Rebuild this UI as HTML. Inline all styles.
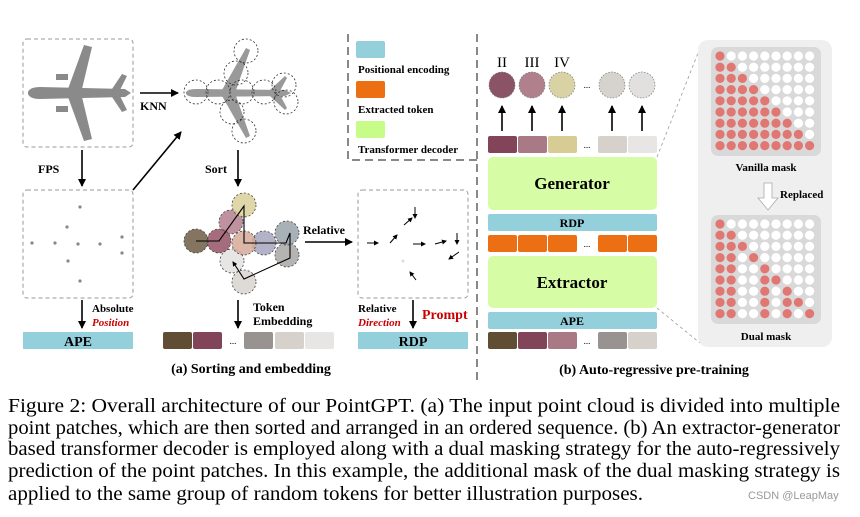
<!DOCTYPE html>
<html><head><meta charset="utf-8"><style>
html,body{margin:0;padding:0;background:#fff}
svg{display:block}
.b{font-family:"Liberation Serif",serif;font-weight:bold}
.s{font-family:"Liberation Serif",serif}
</style></head><body>
<svg width="860" height="517" viewBox="0 0 860 517" xmlns="http://www.w3.org/2000/svg">
<defs>
<marker id="ah" markerWidth="8" markerHeight="8" refX="7" refY="4" orient="auto" markerUnits="userSpaceOnUse"><path d="M0,0 L8,4 L0,8 z" fill="#000"/></marker>
<marker id="as" markerWidth="5" markerHeight="5" refX="4" refY="2.5" orient="auto" markerUnits="userSpaceOnUse"><path d="M0,0 L5,2.5 L0,5 z" fill="#000"/></marker>
</defs>
<rect x="23" y="39" width="110" height="108" rx="4" fill="none" stroke="#999" stroke-dasharray="4,3"/>
<g fill="#8a8a8a">
<path d="M28,92 Q30,87 40,87 L125,89 L131,93 L125,97 L40,99 Q30,99 28,94 z"/>
<path d="M68,89 L84,45 L92,47 L82,89 z"/>
<path d="M68,97 L84,141 L92,139 L82,97 z"/>
<path d="M112,89 L122,74 L127,76 L120,90 z"/>
<path d="M112,97 L122,112 L127,110 L120,96 z"/>
<rect x="56" y="74" width="12" height="6"/>
<rect x="56" y="106" width="12" height="6"/>
</g>
<text class="b" x="140" y="110" font-size="12">KNN</text>
<line x1="140" y1="93" x2="178" y2="93" stroke="#000" stroke-width="1.6" marker-end="url(#ah)"/>
<g fill="#999">
<path d="M186,92 Q188,89 196,89 L285,90 L291,93 L285,96 L196,97 Q188,97 186,94 z"/>
<path d="M222,90 L246,48 L250,50 L236,90 z"/>
<path d="M222,96 L246,138 L250,136 L236,96 z"/>
<path d="M270,90 L285,76 L287,78 L280,91 z"/>
<path d="M270,96 L285,110 L287,108 L280,95 z"/>
</g>
<g fill="none" stroke="#333" stroke-dasharray="2,2" stroke-width="0.8">
<circle cx="196" cy="92" r="12"/><circle cx="218" cy="92" r="12"/><circle cx="242" cy="92" r="12"/><circle cx="264" cy="92" r="12"/><circle cx="284" cy="85" r="12"/><circle cx="286" cy="102" r="12"/><circle cx="236" cy="73" r="12"/><circle cx="246" cy="51" r="12"/><circle cx="232" cy="112" r="12"/><circle cx="244" cy="131" r="12"/>
</g>
<text class="b" x="38" y="173" font-size="12">FPS</text>
<line x1="82" y1="150" x2="82" y2="186" stroke="#000" stroke-width="1.6" marker-end="url(#ah)"/>
<line x1="133" y1="190" x2="181" y2="132" stroke="#000" stroke-width="1.6" marker-end="url(#ah)"/>
<text class="b" x="205" y="173" font-size="12">Sort</text>
<line x1="238" y1="150" x2="238" y2="186" stroke="#000" stroke-width="1.6" marker-end="url(#ah)"/>
<rect x="23" y="190" width="110" height="108" rx="4" fill="none" stroke="#999" stroke-dasharray="4,3"/>
<g fill="#888"><circle cx="80" cy="207" r="1.6"/><circle cx="67" cy="227" r="1.6"/><circle cx="32" cy="243" r="1.6"/><circle cx="55" cy="243" r="1.6"/><circle cx="78" cy="244" r="1.6"/><circle cx="100" cy="244" r="1.6"/><circle cx="122" cy="237" r="1.6"/><circle cx="122" cy="253" r="1.6"/><circle cx="68" cy="261" r="1.6"/><circle cx="80" cy="281" r="1.6"/></g>
<line x1="82" y1="300" x2="82" y2="328" stroke="#000" stroke-width="1.6" marker-end="url(#ah)"/>
<text class="b" x="92" y="312" font-size="11">Absolute</text>
<text class="b" x="92" y="326" font-size="11" fill="#c00" font-style="italic">Position</text>
<rect x="23" y="332" width="110" height="17" fill="#94cfdc"/>
<text class="b" x="78" y="346" font-size="14" text-anchor="middle">APE</text>
<g stroke="#444" stroke-dasharray="2,2" stroke-width="0.8" fill-opacity="0.85">
<circle cx="244" cy="282" r="12" fill="#d8d4cf"/>
<circle cx="232" cy="261" r="12" fill="#e4e2e0"/>
<circle cx="287" cy="255" r="12" fill="#a9a7a4"/>
<circle cx="287" cy="233" r="12" fill="#9aa3ab"/>
<circle cx="231" cy="222" r="12" fill="#b3808e"/>
<circle cx="244" cy="205" r="12" fill="#d9d09a"/>
<circle cx="264" cy="243" r="12" fill="#a5a6bd"/>
<circle cx="244" cy="243" r="12" fill="#d6a998"/>
<circle cx="219" cy="241" r="12" fill="#955266"/>
<circle cx="196" cy="241" r="12" fill="#6e5d45"/>
</g>
<polyline points="196,241 219,241 244,206 244,243 286,243 290,233 290,258 244,279 233,262" fill="none" stroke="#000" stroke-width="1.1" marker-end="url(#as)"/>
<text class="b" x="303" y="234" font-size="12">Relative</text>
<line x1="305" y1="242" x2="352" y2="242" stroke="#000" stroke-width="1.6" marker-end="url(#ah)"/>
<line x1="238" y1="300" x2="238" y2="328" stroke="#000" stroke-width="1.6" marker-end="url(#ah)"/>
<text class="b" x="253" y="311" font-size="12">Token</text>
<text class="b" x="253" y="325" font-size="12">Embedding</text>
<rect x="163" y="332" width="29" height="17" rx="2" fill="#5f4e34"/>
<rect x="193" y="332" width="29" height="17" rx="2" fill="#814458"/>
<text x="233" y="344" font-size="9" text-anchor="middle">...</text>
<rect x="244" y="332" width="29" height="17" rx="2" fill="#989390"/>
<rect x="275" y="332" width="29" height="17" rx="2" fill="#d6d1cb"/>
<rect x="305" y="332" width="29" height="17" rx="2" fill="#e8e6e4"/>
<rect x="358" y="190" width="110" height="108" rx="4" fill="none" stroke="#999" stroke-dasharray="4,3"/>
<g stroke="#000" stroke-width="1" marker-end="url(#as)">
<line x1="367" y1="243" x2="378" y2="243"/><line x1="390" y1="243" x2="397" y2="235"/><line x1="404" y1="225" x2="412" y2="218"/><line x1="415" y1="207" x2="415" y2="218"/><line x1="413" y1="244" x2="425" y2="244"/><line x1="435" y1="244" x2="446" y2="241"/><line x1="457" y1="233" x2="457" y2="244"/><line x1="459" y1="252" x2="449" y2="259"/><line x1="416" y1="280" x2="410" y2="272"/>
</g>
<circle cx="403" cy="261" r="1.5" fill="#ddd"/>
<line x1="413" y1="300" x2="413" y2="328" stroke="#000" stroke-width="1.6" marker-end="url(#ah)"/>
<text class="b" x="358" y="312" font-size="11">Relative</text>
<text class="b" x="358" y="326" font-size="11" fill="#c00" font-style="italic">Direction</text>
<text class="b" x="422" y="319" font-size="14" fill="#c00">Prompt</text>
<rect x="358" y="332" width="110" height="17" fill="#94cfdc"/>
<text class="b" x="413" y="346" font-size="14" text-anchor="middle">RDP</text>
<text class="b" x="251" y="373" font-size="14" text-anchor="middle">(a) Sorting and embedding</text>
<path d="M348,34 L348,160 L477,160" fill="none" stroke="#888" stroke-width="2" stroke-dasharray="8,5"/>
<line x1="477" y1="34" x2="477" y2="380" stroke="#888" stroke-width="2" stroke-dasharray="8,5"/>
<rect x="356" y="41" width="29" height="17" rx="2" fill="#94cfdc"/>
<text class="b" x="358" y="73" font-size="11">Positional encoding</text>
<rect x="356" y="81" width="29" height="17" rx="2" fill="#ec7013"/>
<text class="b" x="358" y="113" font-size="11">Extracted token</text>
<rect x="356" y="121" width="29" height="17" rx="2" fill="#c8fc88"/>
<text class="b" x="358" y="153" font-size="11">Transformer decoder</text>
<g class="s" font-size="15" text-anchor="middle"><text x="502" y="67">II</text><text x="532" y="67">III</text><text x="562" y="67">IV</text></g>
<g stroke="#777" stroke-dasharray="1.5,1.5" stroke-width="0.7">
<circle cx="502" cy="85" r="13" fill="#8a5466"/><circle cx="532" cy="85" r="13" fill="#b0808c"/><circle cx="562" cy="85" r="13" fill="#d8d2a4"/><circle cx="612" cy="85" r="13" fill="#d6d3cf"/><circle cx="642" cy="85" r="13" fill="#e2e0de"/>
</g>
<text x="587" y="88" font-size="9" text-anchor="middle">...</text>
<g stroke="#000" stroke-width="1.6" marker-end="url(#ah)">
<line x1="502" y1="131" x2="502" y2="106"/><line x1="532" y1="131" x2="532" y2="106"/><line x1="562" y1="131" x2="562" y2="106"/><line x1="612" y1="131" x2="612" y2="106"/><line x1="642" y1="131" x2="642" y2="106"/>
</g>
<rect x="488" y="136" width="29" height="17" rx="2" fill="#814458"/>
<rect x="518" y="136" width="29" height="17" rx="2" fill="#a97985"/>
<rect x="548" y="136" width="29" height="17" rx="2" fill="#d6cc94"/>
<text x="587" y="148" font-size="9" text-anchor="middle">...</text>
<rect x="598" y="136" width="29" height="17" rx="2" fill="#d6d1cb"/>
<rect x="628" y="136" width="29" height="17" rx="2" fill="#e8e6e4"/>
<rect x="488" y="157" width="169" height="53" rx="5" fill="#d7fca6"/>
<text class="b" x="572" y="189" font-size="17" text-anchor="middle">Generator</text>
<rect x="488" y="214" width="169" height="17" rx="2" fill="#94cfdc"/>
<text class="b" x="572" y="227" font-size="12" text-anchor="middle">RDP</text>
<g fill="#ec7013"><rect x="488" y="235" width="29" height="17" rx="2"/><rect x="518" y="235" width="29" height="17" rx="2"/><rect x="548" y="235" width="29" height="17" rx="2"/><rect x="598" y="235" width="29" height="17" rx="2"/><rect x="628" y="235" width="29" height="17" rx="2"/></g>
<text x="587" y="247" font-size="9" text-anchor="middle">...</text>
<rect x="488" y="256" width="169" height="52" rx="5" fill="#d7fca6"/>
<text class="b" x="572" y="288" font-size="17" text-anchor="middle">Extractor</text>
<rect x="488" y="312" width="169" height="17" rx="2" fill="#94cfdc"/>
<text class="b" x="572" y="325" font-size="12" text-anchor="middle">APE</text>
<rect x="488" y="332" width="29" height="17" rx="2" fill="#5f4e34"/>
<rect x="518" y="332" width="29" height="17" rx="2" fill="#814458"/>
<rect x="548" y="332" width="29" height="17" rx="2" fill="#a97985"/>
<text x="587" y="344" font-size="9" text-anchor="middle">...</text>
<rect x="598" y="332" width="29" height="17" rx="2" fill="#989390"/>
<rect x="628" y="332" width="29" height="17" rx="2" fill="#d6d1cb"/>
<text class="b" x="654" y="374" font-size="14" text-anchor="middle">(b) Auto-regressive pre-training</text>
<line x1="657" y1="157" x2="700" y2="48" stroke="#999" stroke-dasharray="3,3" stroke-width="0.8"/>
<line x1="657" y1="308" x2="700" y2="343" stroke="#999" stroke-dasharray="3,3" stroke-width="0.8"/>
<rect x="698" y="40" width="134" height="307" rx="10" fill="#efefef"/>
<rect x="711" y="47" width="110" height="109" rx="7" fill="#d9d9d9"/>
<rect x="711" y="215" width="110" height="109" rx="7" fill="#d9d9d9"/>
<g id="masks"></g>
<text class="b" x="766" y="171" font-size="11" text-anchor="middle">Vanilla mask</text>
<path d="M764,183 L772,183 L772,198 L778,198 L768,210 L758,198 L764,198 z" fill="#fff" stroke="#aaa" stroke-width="0.8"/>
<text class="b" x="780" y="198" font-size="11">Replaced</text>
<text class="b" x="766" y="340" font-size="11" text-anchor="middle">Dual mask</text>
<g class="s" font-size="20">
<text x="8" y="412" textLength="832" lengthAdjust="spacingAndGlyphs">Figure 2:  Overall architecture of our PointGPT. (a) The input point cloud is divided into multiple</text>
<text x="8" y="434" textLength="832" lengthAdjust="spacingAndGlyphs">point patches, which are then sorted and arranged in an ordered sequence. (b) An extractor-generator</text>
<text x="8" y="455" textLength="832" lengthAdjust="spacingAndGlyphs">based transformer decoder is employed along with a dual masking strategy for the auto-regressively</text>
<text x="8" y="477" textLength="832" lengthAdjust="spacingAndGlyphs">prediction of the point patches. In this example, the additional mask of the dual masking strategy is</text>
<text x="8" y="500" textLength="635" lengthAdjust="spacingAndGlyphs">applied to the same group of random tokens for better illustration purposes.</text>
</g>
<text x="748" y="499" font-family="Liberation Sans,sans-serif" font-size="11" fill="#999">CSDN @LeapMay</text>
<script>
var ns="http://www.w3.org/2000/svg",g=document.getElementById("masks");
var dual=["100000000","110000000","111000000","110100000","110010000","110011000","110010100","110010110","110010101"];
for(var m=0;m<2;m++)for(var r=0;r<9;r++)for(var c=0;c<9;c++){var red=m==0?(c<=r):dual[r][c]=="1";var e=document.createElementNS(ns,"circle");e.setAttribute("cx",720+c*11.2);e.setAttribute("cy",(m==0?56:224)+r*11.2);e.setAttribute("r",4.6);e.setAttribute("fill",red?"#e07772":"#fff");g.appendChild(e);}
</script>
</svg>
</body></html>
